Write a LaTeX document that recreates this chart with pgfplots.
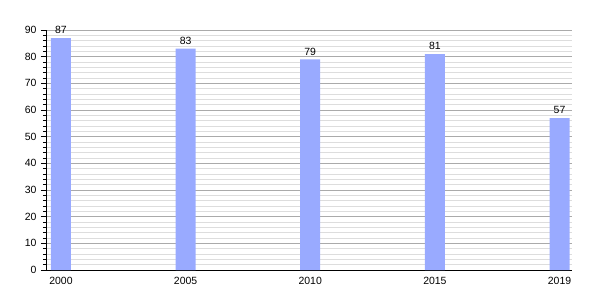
\documentclass[border=0pt]{standalone}
\usepackage{fontspec}
\setmainfont{Liberation Sans}
\usepackage{pgfplots}
\pgfplotsset{compat=1.18}
\definecolor{barblue}{RGB}{153,170,255}
\definecolor{majgrid}{RGB}{170,170,170}
\definecolor{mingrid}{RGB}{221,221,221}
\begin{document}
\begin{tikzpicture}
\path[use as bounding box] (-46bp,-30bp) rectangle (554bp,270bp);
\begin{axis}[
  at={(0,0)}, anchor=south west,
  scale only axis,
  width=526bp, height=240bp,
  xmin=-0.12, xmax=4.1,
  ymin=0, ymax=90,
  axis lines*=left,
  axis line style={black, line width=0.8pt, -},
  xtick=data,
  xticklabels={2000,2005,2010,2015,2019},
  major x tick style={draw=none},
  ytick={0,10,...,90},
  minor y tick num=4,
  ymajorgrids, yminorgrids,
  major grid style={majgrid, line width=0.6pt},
  minor grid style={mingrid, line width=0.6pt},
  tick align=outside,
  y tick style={black, line width=0.6pt},
  major tick length=5bp,
  minor tick length=3bp,
  tick label style={font=\fontsize{10.5}{12}\selectfont, text=black},
  /pgf/number format/assume math mode=true,
  xticklabel style={yshift=1bp},
  yticklabel style={xshift=-1bp},
  nodes near coords,
  every node near coord/.append style={font=\fontsize{10.5}{12}\selectfont, text=black, yshift=0.5bp},
  clip=false,
]
\addplot[ybar, bar width=20bp, fill=barblue, draw=none] coordinates {
  (0,87) (1,83) (2,79) (3,81) (4,57)
};
\end{axis}
\end{tikzpicture}
\end{document}
